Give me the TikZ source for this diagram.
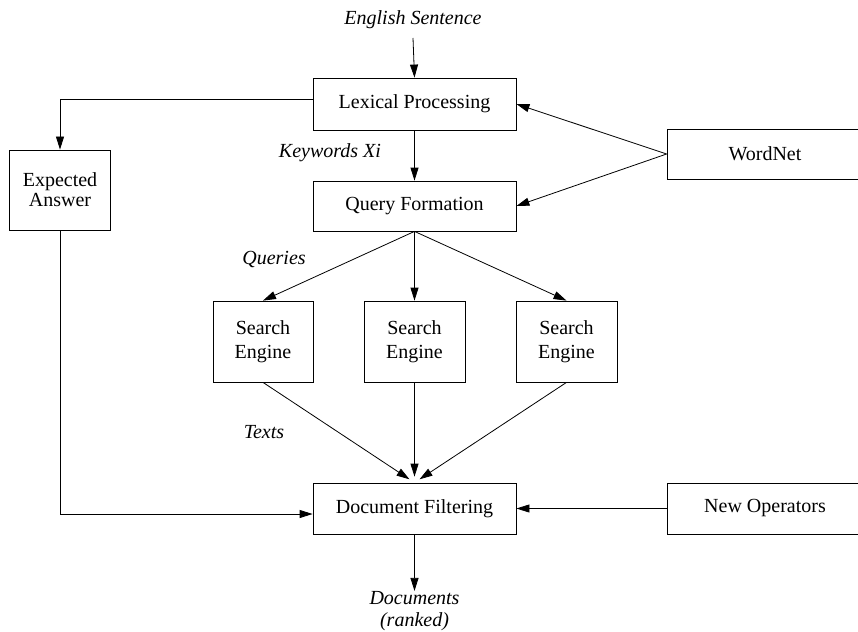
\documentclass[tikz,border=0pt]{standalone}
\usepackage{fontspec}
\setmainfont{Liberation Serif}
\usetikzlibrary{arrows.meta}

\tikzset{
  block/.style={draw,inner sep=0pt,align=center,
    font=\fontsize{20}{24}\selectfont},
  tag/.style={inner sep=0pt,align=center,
    font=\fontsize{20}{22}\selectfont\itshape},
  >={Triangle[length=13pt,width=8pt]}
}

\begin{document}
\begin{tikzpicture}[x=1pt,y=-1pt,line width=0.8pt]
\useasboundingbox (0,0) rectangle (858,631);

\node [block,minimum width=203pt,minimum height=52pt] (lexical)  at (414.5, 104) {Lexical Processing};
\node [block,minimum width=203pt,minimum height=50pt] (query)    at (414.5, 206) {Query Formation};
\node [block,minimum width=203pt,minimum height=51pt] (filter)   at (414.5, 508.5) {Document Filtering};
\node [block,minimum width=101pt,minimum height=80pt,
       font=\fontsize{20}{20}\selectfont] (expected) at (60, 190) {Expected\\ Answer};
\node [block,minimum width=196pt,minimum height=50pt] (wordnet)  at (765, 154) {WordNet};
\node [block,minimum width=196pt,minimum height=51pt] (newops)   at (765, 508.5) {New Operators};

\node [block,minimum width=100pt,minimum height=81pt] (engineA)  at (263, 341.5) {Search\\ Engine};
\node [block,minimum width=101pt,minimum height=81pt] (engineB)  at (414.5, 341.5) {Search\\ Engine};
\node [block,minimum width=101pt,minimum height=81pt] (engineC)  at (566.5, 341.5) {Search\\ Engine};

\node [tag] (sentence) at (413, 20)  {English Sentence};
\node [tag] (keywords) at (330, 153) {Keywords Xi};
\node [tag] (queries)  at (274, 259) {Queries};
\node [tag] (texts)    at (264, 432) {Texts};
\node [tag] (docs)     at (414.5, 611) {Documents\\ (ranked)};

\draw [->] (sentence.south |- 0,38) -- (lexical.north);
\draw [->] (lexical) -- (query);
\draw [->] (wordnet.west) -- (lexical.east);
\draw [->] (wordnet.west) -- (query.east);

\draw [->] (lexical.west |- 0,99) -| (expected.north);
\draw [->] (expected.south) |- (filter.west |- 0,514);
\draw [->] (newops.west) -- (filter.east);

\draw [->] (query.south) -- (engineA.north);
\draw [->] (query.south) -- (engineB.north);
\draw [->] (query.south) -- (engineC.north);

\draw [->,shorten >=6pt] (engineA.south) -- (filter.north);
\draw [->,shorten >=6pt] (engineB.south) -- (filter.north);
\draw [->,shorten >=6pt] (engineC.south) -- (filter.north);

\draw [->] (filter.south) -- (docs.north);
\end{tikzpicture}
\end{document}
